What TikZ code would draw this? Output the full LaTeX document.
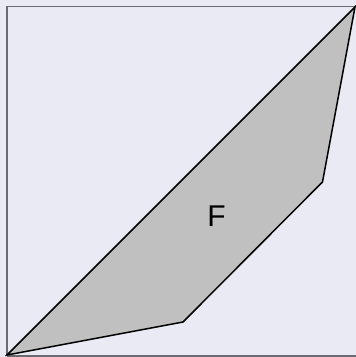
\documentclass[tikz,border=0pt]{standalone}
\usepackage{fontspec}
\setmainfont{Liberation Sans}
\definecolor{bgc}{HTML}{EAEAF5}
\definecolor{framec}{HTML}{6A6A72}
\definecolor{fillc}{HTML}{C0C0C0}
\begin{document}
\begin{tikzpicture}[x=1pt,y=-1pt,
  framestyle/.style={draw=framec,line width=1.2pt},
  regionstyle/.style={draw=black,fill=fillc,line width=1.5pt,line join=miter},
  lbl/.style={font=\fontsize{30}{36}\selectfont,inner sep=0pt}]
\fill[bgc] (0,0) rectangle (356,357);
\useasboundingbox (0,0) rectangle (356,357);
\draw[framestyle] (7,356) -- (7,6.5) -- (356,6.5);
\draw[framestyle] (7,356) -- (356,356);
\coordinate (p1) at (7,355);
\coordinate (p2) at (355,7);
\coordinate (p3) at (322.5,182);
\coordinate (p4) at (183,322);
\draw[regionstyle] (p1) -- (p2) -- (p3) -- (p4) -- cycle;
\node[lbl] (F) at (216.5,216) {F};
\end{tikzpicture}
\end{document}
